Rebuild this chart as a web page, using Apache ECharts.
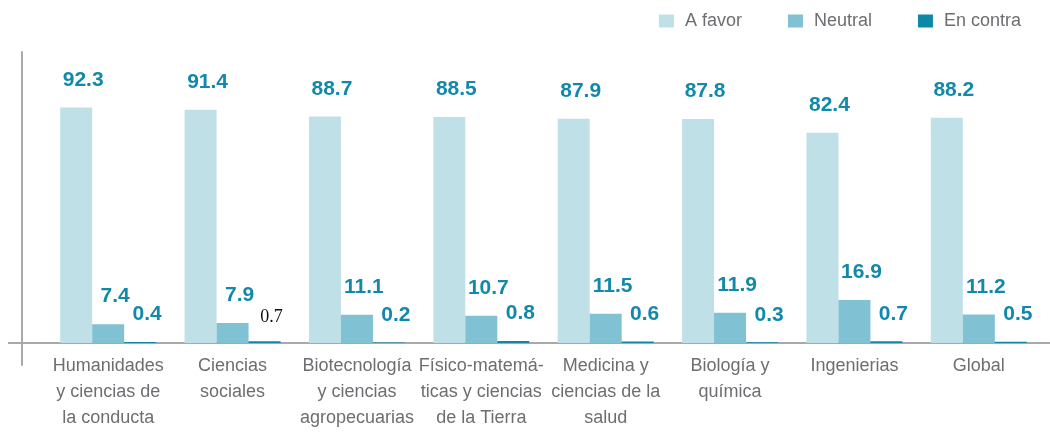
<!DOCTYPE html>
<html>
<head>
<meta charset="utf-8">
<script src="https://cdn.jsdelivr.net/npm/echarts@6/dist/echarts.min.js"></script>
<style>
  html, body { margin: 0; padding: 0; background: #fff; }
  #chart { width: 1050px; height: 432px; }
</style>
</head>
<body>
<div id="chart"></div>
<script>
const categories = [
  "Humanidades\ny ciencias de\nla conducta",
  "Ciencias\nsociales",
  "Biotecnología\ny ciencias\nagropecuarias",
  "Físico-matemá-\nticas y ciencias\nde la Tierra",
  "Medicina y\nciencias de la\nsalud",
  "Biología y\nquímica",
  "Ingenierias",
  "Global"
];
const seriesNames = ["A favor", "Neutral", "En contra"];
const aFavor = [92.3, 91.4, 88.7, 88.5, 87.9, 87.8, 82.4, 88.2];
const neutral = [7.4, 7.9, 11.1, 10.7, 11.5, 11.9, 16.9, 11.2];
const enContra = [0.4, 0.7, 0.2, 0.8, 0.6, 0.3, 0.7, 0.5];

document.addEventListener("DOMContentLoaded", function () {
  const chartDom = document.getElementById("chart");
  const myChart = echarts.init(chartDom);
  const font = '"Liberation Sans", Arial, sans-serif';
  const colors = ["#c0e0e8", "#80c1d3", "#0f88a8"];
  const axisColor = "#a7a9ac";

  const valueLabel = {
    show: true,
    position: "top",
    distance: 17,
    offset: [7, 0],
    color: "#1289ab",
    fontFamily: font,
    fontWeight: "bold",
    fontSize: 21,
  };

  // the 0.7 in Ciencias sociales is set in a plain serif in the original
  const contraData = enContra.map(function (v, i) {
    if (i === 1) {
      return {
        value: v,
        label: {
          color: "#111",
          fontFamily: '"Liberation Serif", serif',
          fontWeight: "normal",
          fontSize: 18,
          distance: 15,
        },
      };
    }
    return v;
  });

  const seriesData = [aFavor, neutral, contraData];

  const option = {
    animation: false,
    color: colors,
    legend: {
      data: seriesNames,
      top: 7,
      right: 24,
      itemWidth: 15,
      itemHeight: 13,
      itemGap: 46,
      icon: "rect",
      textStyle: {
        color: "#6d6e71",
        fontFamily: font,
        fontSize: 18,
        padding: [0, 0, 0, 6],
      },
    },
    grid: {
      left: 46,
      right: 9,
      top: 52,
      bottom: 67,
      containLabel: false,
      outerBoundsMode: "none",
    },
    xAxis: {
      type: "category",
      data: categories,
      axisLine: {
        onZero: true,
        lineStyle: { color: axisColor, width: 2 },
      },
      axisTick: { show: false },
      axisLabel: {
        color: "#6d6e71",
        fontFamily: font,
        fontSize: 18,
        lineHeight: 26,
        margin: -12,
        interval: 0,
      },
    },
    yAxis: {
      type: "value",
      min: -8.6,
      max: 114,
      offset: 24,
      axisLine: {
        show: true,
        lineStyle: { color: axisColor, width: 2 },
      },
      axisTick: { show: false },
      axisLabel: { show: false },
      splitLine: { show: false },
    },
    graphic: [
      {
        type: "line",
        shape: { x1: 8, y1: 343, x2: 46, y2: 343 },
        style: { stroke: axisColor, lineWidth: 2 },
      },
      {
        type: "line",
        shape: { x1: 1040, y1: 343, x2: 1050, y2: 343 },
        style: { stroke: axisColor, lineWidth: 2 },
      },
    ],
    series: seriesNames.map(function (name, i) {
      return {
        name: name,
        type: "bar",
        barWidth: 32,
        barGap: "0%",
        data: seriesData[i],
        label: valueLabel,
        itemStyle: { color: colors[i] },
      };
    }),
  };
  myChart.setOption(option);
  window.addEventListener("resize", function () {
    myChart.resize();
  });
});
</script>
</body>
</html>
